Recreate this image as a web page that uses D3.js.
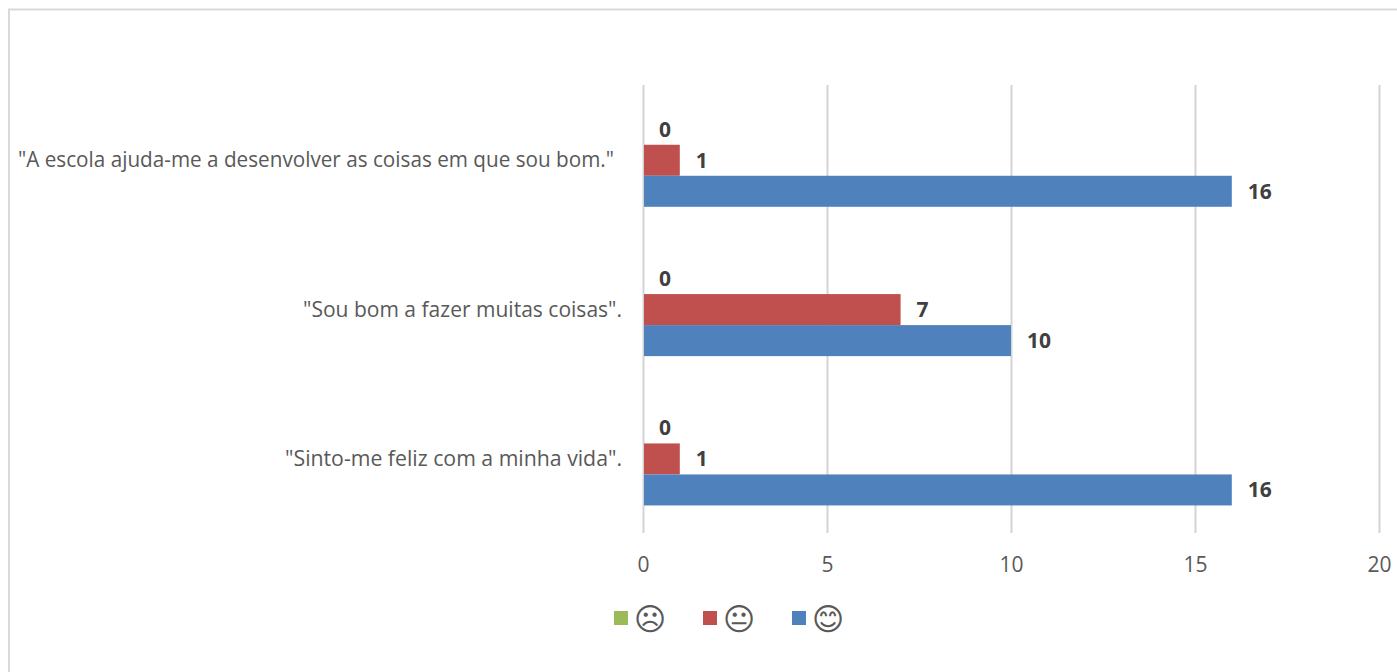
<!DOCTYPE html>
<html><head><meta charset="utf-8">
<script src="https://cdn.jsdelivr.net/npm/d3@7/dist/d3.min.js"></script>
<style>html,body{margin:0;padding:0;background:#fff}svg{display:block}text{font-family:"Open Sans",sans-serif}</style>
</head><body><svg id="c" width="1397" height="672"></svg>
<script>
const categories = ['"A escola ajuda-me a desenvolver as coisas em que sou bom."','"Sou bom a fazer muitas coisas".','"Sinto-me feliz com a minha vida".'];
const seriesNames = ['\u2639','\uD83D\uDE10','\uD83D\uDE0A'];
const seriesColors = ['#9BBB59','#C0504D','#4F81BD'];
const sadValues = [0,0,0];
const neutralValues = [1,7,1];
const happyValues = [16,10,16];
const xTicks = [0,5,10,15,20];
const allValues = [sadValues,neutralValues,happyValues];
const labelRight = [614,622,622];
const labelWidth = [596,319,337];

const svg = d3.select('#c');
svg.append('rect').attr('x',9).attr('y',9.5).attr('width',1400).attr('height',680).attr('fill','#fff').attr('stroke','#d9d9d9').attr('stroke-width',2);

const x = d3.scaleLinear().domain([0,20]).range([643,1379]);
const y = d3.scaleBand().domain(categories).range([85.6,533.6]).paddingInner(0.377).paddingOuter(0.1885);
const sub = d3.scaleBand().domain([0,1,2]).range([0,y.bandwidth()]);

const axis = d3.axisBottom(x).tickValues(xTicks).tickSize(533-85).tickPadding(24.5).tickSizeOuter(0);
const gx = svg.append('g').attr('transform','translate(0,85)').call(axis);
gx.select('.domain').remove();
gx.selectAll('line').attr('stroke','#d4d4d4').attr('stroke-width',2);
gx.selectAll('text').attr('fill','#595959').attr('font-size',21).style('font-family','"Open Sans",sans-serif');

allValues.forEach((vals,s)=>{
  const g = svg.append('g');
  g.selectAll('rect').data(vals).join('rect')
    .attr('x',x(0)+1).attr('y',(d,i)=>y(categories[i])+sub(s))
    .attr('width',d=>Math.max(0,x(d)-x(0)-1)).attr('height',sub.bandwidth())
    .attr('fill',seriesColors[s]);
  g.selectAll('text').data(vals).join('text')
    .attr('x',d=>x(d)+16).attr('y',(d,i)=>y(categories[i])+sub(s)+sub.bandwidth()/2+7.5)
    .attr('font-size',21).attr('font-weight',700).attr('fill','#404040')
    .text(d=>d);
});

svg.append('g').selectAll('text').data(categories).join('text')
  .attr('x',(d,i)=>labelRight[i]-labelWidth[i]).attr('y',d=>y(d)+y.bandwidth()/2+7)
  .attr('textLength',(d,i)=>labelWidth[i]).attr('lengthAdjust','spacingAndGlyphs')
  .attr('font-size',21).attr('fill','#595959').text(d=>d);

const legendX = d3.scalePoint().domain([0,1,2]).range([614,792]);
const lg = svg.append('g').selectAll('g').data(seriesNames).join('g')
  .attr('transform',(d,i)=>`translate(${legendX(i)},611)`);
lg.append('rect').attr('width',14).attr('height',14).attr('fill',(d,i)=>seriesColors[i]);
lg.append('text').attr('x',36).attr('y',19).attr('text-anchor','middle').attr('font-size',31)
  .style('font-family','"DejaVu Sans"').attr('fill','#595959').text(d=>d);
</script></body></html>
